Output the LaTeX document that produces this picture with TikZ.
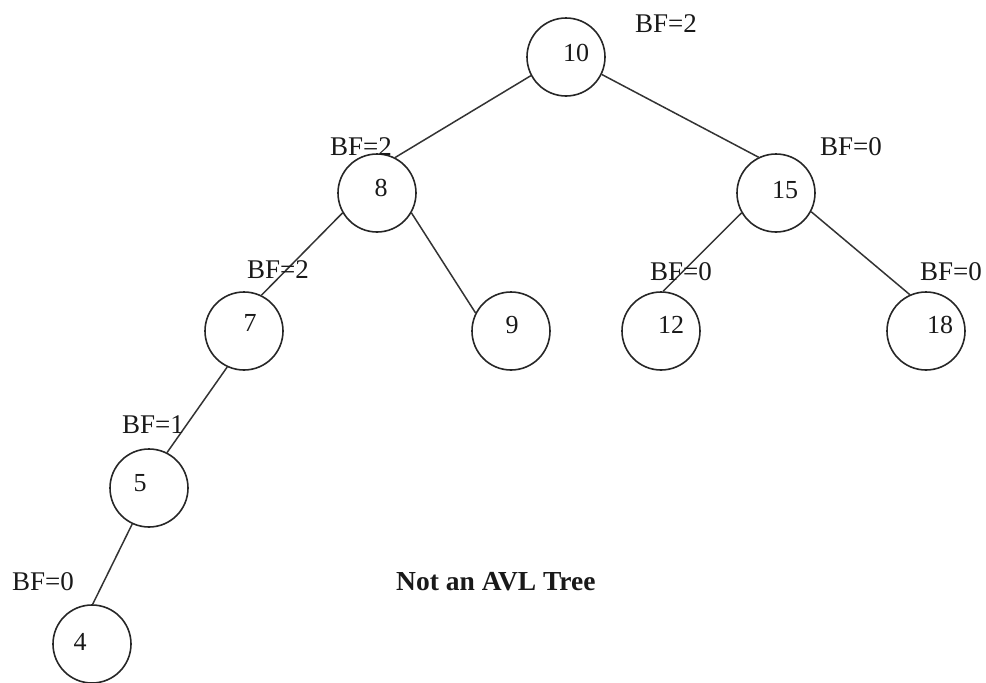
\documentclass[tikz,border=0pt]{standalone}
\usepackage{fontspec}
\setmainfont{Liberation Serif}
\begin{document}
\begin{tikzpicture}[x=1pt,y=-1pt,
  vtx/.style={draw=black!85,line width=1.6pt,circle,minimum size=78pt,inner sep=0pt},
  num/.style={inner sep=0pt,font=\fontsize{26}{30}\selectfont,text=black!90},
  bf/.style={inner sep=0pt,anchor=base west,font=\fontsize{27}{32}\selectfont,text=black!90},
  edge/.style={draw=black!80,line width=1.5pt}]
\useasboundingbox (0,0) rectangle (986,683);
% vertices
\node[vtx] (n10) at (566,57) {};
\node[vtx] (n8)  at (377,193) {};
\node[vtx] (n15) at (776,193) {};
\node[vtx] (n7)  at (244,331) {};
\node[vtx] (n9)  at (511,331) {};
\node[vtx] (n12) at (661,331) {};
\node[vtx] (n18) at (926,331) {};
\node[vtx] (n5)  at (149,488) {};
\node[vtx] (n4)  at (92,644) {};
% numbers
\node[num] (t10) at (576,53) {10};
\node[num] (t8)  at (381,188) {8};
\node[num] (t15) at (785,190) {15};
\node[num] (t7)  at (250,323) {7};
\node[num] (t9)  at (512,325) {9};
\node[num] (t12) at (671,325) {12};
\node[num] (t18) at (940,325) {18};
\node[num] (t5)  at (140,483) {5};
\node[num] (t4)  at (80,642) {4};
% edges
\draw[edge] (n10.208) -- (n8.63);
\draw[edge] (n10.-26) -- (n15.116);
\draw[edge] (n8.210) -- (n7.64);
\draw[edge] (n8.-30) -- (n9.153);
\draw[edge] (n15.210) -- (n12.87);
\draw[edge] (n15.-28) -- (n18.114);
\draw[edge] (n7.245) -- (n5.63);
\draw[edge] (n5.245) -- (n4.89);
% balance factors
\node[bf] (b10) at (635,32) {BF=2};
\node[bf] (b8)  at (330,155) {BF=2};
\node[bf] (b15) at (820,155) {BF=0};
\node[bf] (b7)  at (247,278) {BF=2};
\node[bf] (b12) at (650,280) {BF=0};
\node[bf] (b18) at (920,280) {BF=0};
\node[bf] (b5)  at (122,433) {BF=1};
\node[bf] (b4)  at (12,590) {BF=0};
% caption
\node[bf,font=\fontsize{27.5}{32}\selectfont\bfseries] (cap) at (396,590) {Not an AVL Tree};
\end{tikzpicture}
\end{document}
